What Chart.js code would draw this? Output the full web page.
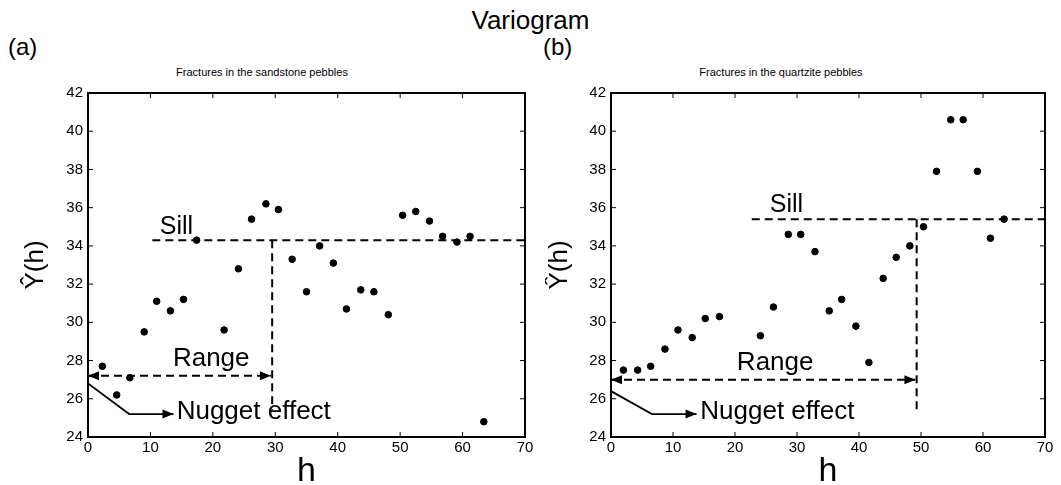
<!DOCTYPE html>
<html>
<head>
<meta charset="utf-8">
<title>Variogram</title>
<script src="https://cdn.jsdelivr.net/npm/chart.js@4.4.1/dist/chart.umd.min.js"></script>
<style>
  body { margin: 0; background: #fff; font-family: "Liberation Sans", Arial, Helvetica, sans-serif; }
  #wrap { position: relative; width: 1061px; height: 485px; overflow: hidden; }
  .txt { position: absolute; color: #000; white-space: nowrap; }
  canvas { position: absolute; top: 0; }
</style>
</head>
<body>
<div id="wrap">
  <div class="txt" style="left:0;width:1061px;text-align:center;top:5px;font-size:26px;line-height:30px">Variogram</div>
  <div class="txt" style="left:8px;top:33px;font-size:24px;line-height:28px">(a)</div>
  <div class="txt" style="left:543px;top:33px;font-size:24px;line-height:28px">(b)</div>
  <div class="txt" style="left:162px;width:200px;text-align:center;top:64px;font-size:11px;line-height:16px">Fractures in the sandstone pebbles</div>
  <div class="txt" style="left:681px;width:200px;text-align:center;top:64px;font-size:11px;line-height:16px">Fractures in the quartzite pebbles</div>
  <canvas id="chartA" width="545" height="485" style="left:0"></canvas>
  <canvas id="chartB" width="516" height="485" style="left:545px"></canvas>
</div>

<script>
const FONT = '"Liberation Sans", Arial, Helvetica, sans-serif'

// ===============================
// DATA
// ===============================
// lag h and experimental semivariance, sandstone pebbles
const sandLag   = [2.3, 4.6, 6.7, 9.0, 11.0, 13.2, 15.3, 17.4, 21.8, 24.1, 26.2, 28.5, 30.5, 32.7,
                   35.0, 37.1, 39.3, 41.4, 43.7, 45.8, 48.1, 50.4, 52.5, 54.7, 56.8, 59.1, 61.2, 63.4]
const sandGamma = [27.7, 26.2, 27.1, 29.5, 31.1, 30.6, 31.2, 34.3, 29.6, 32.8, 35.4, 36.2, 35.9, 33.3,
                   31.6, 34.0, 33.1, 30.7, 31.7, 31.6, 30.4, 35.6, 35.8, 35.3, 34.5, 34.2, 34.5, 24.8]

// lag h and experimental semivariance, quartzite pebbles
const quartzLag   = [2.0, 4.3, 6.4, 8.7, 10.8, 13.1, 15.2, 17.5, 24.1, 26.2, 28.6, 30.6, 32.9, 35.2,
                     37.2, 39.5, 41.6, 43.9, 46.0, 48.2, 50.4, 52.5, 54.8, 56.8, 59.1, 61.2, 63.4]
const quartzGamma = [27.5, 27.5, 27.7, 28.6, 29.6, 29.2, 30.2, 30.3, 29.3, 30.8, 34.6, 34.6, 33.7, 30.6,
                     31.2, 29.8, 27.9, 32.3, 33.4, 34.0, 35.0, 37.9, 40.6, 40.6, 37.9, 34.4, 35.4]

// model read-offs: sill level, range and nugget
const sandSill = 34.3
const sandRange = 29.5
const sandNugget = 26.8
const quartzSill = 35.4
const quartzRange = 49.3
const quartzNugget = 26.4

// axis extents
const hMin = 0, hMax = 70, hStep = 10
const gMin = 24, gMax = 42, gStep = 2

// ===============================
// PLUGINS
// ===============================
function arrowHead(ctx, x, y, dir) {
  const len = 11, half = 4.5
  ctx.beginPath()
  ctx.moveTo(x, y)
  ctx.lineTo(x - dir * len, y - half)
  ctx.lineTo(x - dir * len, y + half)
  ctx.closePath()
  ctx.fill()
}

// box with inward ticks on all four sides, plus arrowheads and guide labels
const framePlugin = {
  id: 'frame',
  afterDraw(chart, args, opts) {
    const { ctx, chartArea: a, scales: { x, y } } = chart
    ctx.save()
    ctx.strokeStyle = '#000'
    ctx.fillStyle = '#000'
    ctx.lineWidth = 2
    ctx.strokeRect(a.left, a.top, a.right - a.left, a.bottom - a.top)

    ctx.lineWidth = 1
    ctx.beginPath()
    x.ticks.forEach(t => {
      const px = x.getPixelForValue(t.value)
      ctx.moveTo(px, a.bottom); ctx.lineTo(px, a.bottom - 5)
      ctx.moveTo(px, a.top); ctx.lineTo(px, a.top + 5)
    })
    y.ticks.forEach(t => {
      const py = y.getPixelForValue(t.value)
      ctx.moveTo(a.left, py); ctx.lineTo(a.left + 5, py)
      ctx.moveTo(a.right, py); ctx.lineTo(a.right - 5, py)
    })
    ctx.stroke()

    // arrowheads on guide lines
    chart.data.datasets.forEach((ds, i) => {
      const pts = chart.getDatasetMeta(i).data
      if (ds.arrowStart) {
        const p = pts[0], q = pts[1]
        arrowHead(ctx, p.x, p.y, p.x < q.x ? -1 : 1)
      }
      if (ds.arrowEnd) {
        const p = pts[pts.length - 1], q = pts[pts.length - 2]
        arrowHead(ctx, p.x, p.y, p.x > q.x ? 1 : -1)
      }
    })

    // guide labels
    ctx.textAlign = 'left'
    ctx.textBaseline = 'alphabetic'
    ;(opts.labels || []).forEach(l => {
      ctx.font = `${l.size}px ${FONT}`
      ctx.fillText(l.text, x.getPixelForValue(l.x), y.getPixelForValue(l.y))
    })
    ctx.restore()
  }
}

// ===============================
// CHART BUILDER
// ===============================
function guide(points, dashed, extra) {
  return Object.assign({
    data: points,
    showLine: true,
    borderColor: '#000',
    borderWidth: 2,
    borderDash: dashed ? [8, 5] : [],
    pointRadius: 0,
    fill: false
  }, extra || {})
}

function makePanel(canvasId, lag, gamma, g, layout) {
  const pts = lag.map((h, i) => ({ x: h, y: gamma[i] }))

  const datasets = [
    // sill
    guide([{ x: g.sillFrom, y: g.sill }, { x: hMax, y: g.sill }], true),
    // range drop
    guide([{ x: g.range, y: g.sill }, { x: g.range, y: g.dropTo }], true),
    // range arrow
    guide([{ x: hMin, y: g.rangeLevel }, { x: g.rangeTip, y: g.rangeLevel }], true, { arrowStart: g.bothEnds, arrowEnd: true }),
    // nugget pointer
    guide([{ x: hMin, y: g.nugget }, { x: g.elbow, y: g.pointerLevel }, { x: g.pointerTip, y: g.pointerLevel }], false, { borderWidth: 1.8, arrowEnd: true }),
    {
      data: pts,
      backgroundColor: '#000',
      borderColor: '#000',
      pointRadius: 3.3,
      pointStyle: 'circle'
    }
  ]

  return new Chart(document.getElementById(canvasId), {
    type: 'scatter',
    data: { datasets },
    options: {
      responsive: false,
      animation: false,
      layout: { padding: { left: 0, right: layout.padRight, top: 93, bottom: 0 } },
      plugins: {
        legend: { display: false },
        tooltip: { enabled: false },
        frame: { labels: g.labels }
      },
      scales: {
        x: {
          type: 'linear',
          min: hMin, max: hMax,
          grid: { display: false, drawTicks: false },
          border: { display: false },
          ticks: { stepSize: hStep, padding: 2, color: '#000', font: { family: FONT, size: 15 } },
          title: { display: true, text: 'h', color: '#000', padding: 0, font: { family: FONT, size: 34, lineHeight: 0.76 } },
          afterFit(s) { s.height = 48 }
        },
        y: {
          type: 'linear',
          min: gMin, max: gMax,
          grid: { display: false, drawTicks: false },
          border: { display: false },
          ticks: { stepSize: gStep, padding: 5, color: '#000', font: { family: FONT, size: 15 } },
          title: { display: true, text: 'Ŷ(h)', color: '#000', padding: { top: layout.titlePad }, font: { family: FONT, size: 26, lineHeight: 1 } },
          afterFit(s) { s.width = layout.yWidth }
        }
      }
    },
    plugins: [framePlugin]
  })
}

makePanel('chartA', sandLag, sandGamma, {
  sill: sandSill, sillFrom: 10.3,
  range: sandRange, dropTo: 25.4,
  rangeLevel: 27.2, rangeTip: 29.3, bothEnds: true,
  nugget: sandNugget, elbow: 6.6, pointerLevel: 25.2, pointerTip: 13.7,
  labels: [
    { text: 'Sill', x: 11.5, y: 34.6, size: 25 },
    { text: 'Range', x: 13.6, y: 27.7, size: 26 },
    { text: 'Nugget effect', x: 14.2, y: 24.95, size: 26 }
  ]
}, { padRight: 20, yWidth: 88, titlePad: 23 })

makePanel('chartB', quartzLag, quartzGamma, {
  sill: quartzSill, sillFrom: 22.7,
  range: quartzRange, dropTo: 25.4,
  rangeLevel: 27.0, rangeTip: 49.1, bothEnds: true,
  nugget: quartzNugget, elbow: 6.6, pointerLevel: 25.2, pointerTip: 13.8,
  labels: [
    { text: 'Sill', x: 25.6, y: 35.75, size: 25 },
    { text: 'Range', x: 20.3, y: 27.5, size: 26 },
    { text: 'Nugget effect', x: 14.4, y: 24.95, size: 26 }
  ]
}, { padRight: 16, yWidth: 66, titlePad: 2 })
</script>
</body>
</html>
